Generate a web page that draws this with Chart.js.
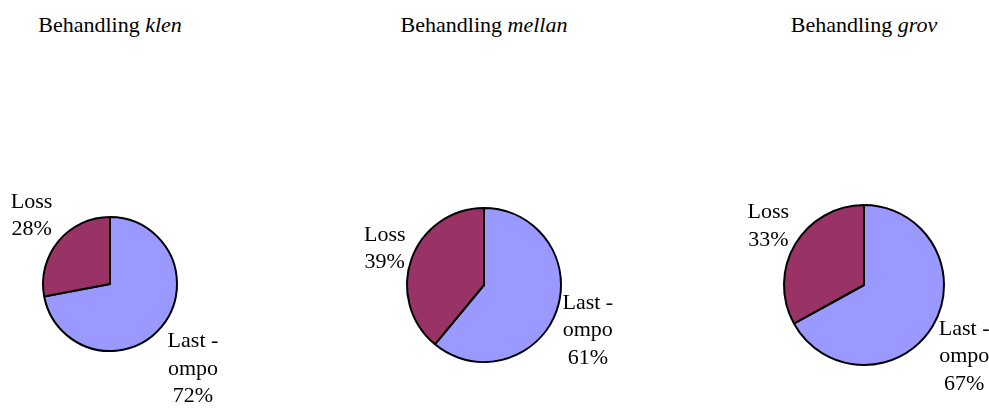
<!DOCTYPE html>
<html>
<head>
<meta charset="utf-8">
<script src="https://cdn.jsdelivr.net/npm/chart.js@4/dist/chart.umd.min.js"></script>
<style>
    html, body { margin: 0; padding: 0; background: #fff; overflow: hidden; }
    #wrap { position: relative; width: 989px; height: 409px; overflow: hidden; }
    .title {
        position: absolute; top: 12px; width: 300px; text-align: center;
        font-family: "Liberation Serif", "Times New Roman", serif; font-size: 22px;
        line-height: 25px; color: #000; white-space: nowrap;
    }
    canvas { position: absolute; }
</style>
</head>
<body>
<div id="wrap"></div>
<script>
// treatments and their shares (percent)
const treatments = ['klen', 'mellan', 'grov'];
const categories = ['Last -\nompo', 'Loss'];
const lastOmpo = [72, 61, 67];
const loss = [28, 39, 33];
const sliceColors = ['#9999FF', '#993366'];

// where each pie sits on the page
const pieX = [110, 484, 864];
const pieY = [284, 285, 285];
const pieRadius = [67, 77, 80];

const CW = 320, CH = 250;
const fontSize = 22;
const labelFont = fontSize + 'px "Liberation Serif", "Times New Roman", serif';
const lineHeight = 27.5;
const capHeight = 0.662 * fontSize;
const labelGap = 6;

// writes "Loss\n28%" style labels just outside each slice:
// the box sits beside the rim point at the slice's mid angle and slides
// up/down depending on how steep that angle is
const outsideLabels = {
    id: 'outsideLabels',
    afterDatasetsDraw(chart) {
        const ctx = chart.ctx;
        const meta = chart.getDatasetMeta(0);
        const values = chart.data.datasets[0].data;
        ctx.save();
        ctx.font = labelFont;
        ctx.fillStyle = '#000';
        ctx.textAlign = 'center';
        ctx.textBaseline = 'alphabetic';
        meta.data.forEach((arc, i) => {
            const p = arc.getProps(['x', 'y', 'startAngle', 'endAngle', 'outerRadius']);
            const mid = (p.startAngle + p.endAngle) / 2;
            const dx = Math.cos(mid), dy = Math.sin(mid);
            const lines = chart.data.labels[i].split('\n').concat([values[i] + '%']);
            const w = Math.max(...lines.map(l => ctx.measureText(l).width));
            const h = lines.length * lineHeight;
            const rimX = p.x + dx * p.outerRadius;
            const rimY = p.y + dy * p.outerRadius;
            const cx = dx >= 0 ? rimX + labelGap + w / 2 : rimX - labelGap - w / 2;
            const slide = Math.min(1, 1.2 * Math.abs(dy / dx));
            const cy = rimY + Math.sign(dy) * (h / 2) * slide;
            lines.forEach((l, j) => {
                const base = cy + (j - (lines.length - 1) / 2) * lineHeight + capHeight / 2;
                ctx.fillText(l, cx, base);
            });
        });
        ctx.restore();
    }
};

const wrap = document.getElementById('wrap');
treatments.forEach((t, k) => {
    const title = document.createElement('div');
    title.className = 'title';
    title.style.left = (pieX[k] - 150) + 'px';
    title.innerHTML = 'Behandling <i>' + t + '</i>';
    wrap.appendChild(title);

    const canvas = document.createElement('canvas');
    canvas.width = CW;
    canvas.height = CH;
    canvas.style.left = (pieX[k] - CW / 2) + 'px';
    canvas.style.top = (pieY[k] - CH / 2) + 'px';
    wrap.appendChild(canvas);

    new Chart(canvas, {
        type: 'pie',
        data: {
            labels: categories,
            datasets: [{
                data: [lastOmpo[k], loss[k]],
                backgroundColor: sliceColors,
                borderColor: '#000',
                borderWidth: 2
            }]
        },
        options: {
            responsive: false,
            animation: false,
            devicePixelRatio: 1,
            radius: pieRadius[k],
            layout: { padding: 0 },
            plugins: {
                legend: { display: false },
                title: { display: false },
                tooltip: { enabled: false }
            }
        },
        plugins: [outsideLabels]
    });
});
</script>
</body>
</html>
